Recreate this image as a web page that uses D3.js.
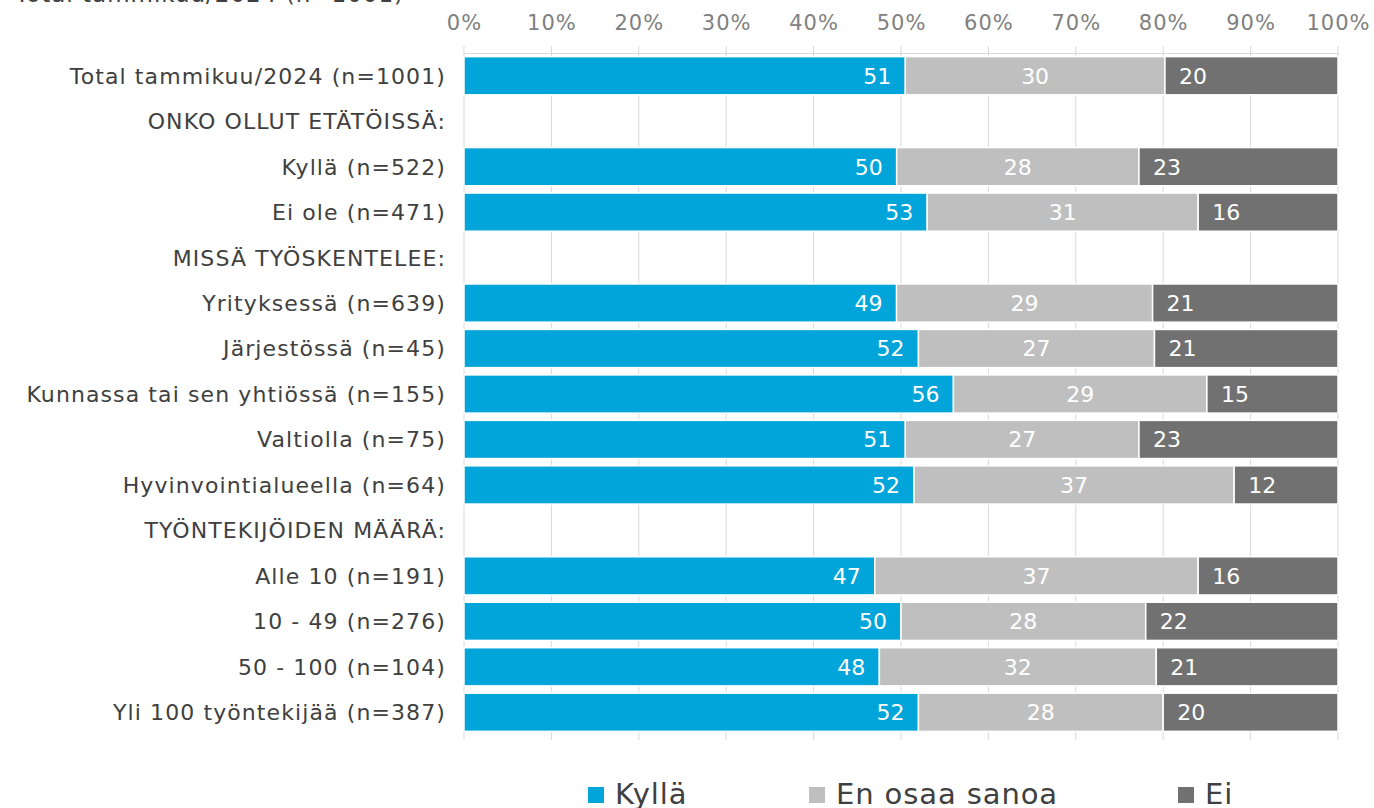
<!DOCTYPE html>
<html>
<head>
<meta charset="utf-8">
<script src="https://cdn.jsdelivr.net/npm/d3@7"></script>
<style>
  body { margin: 0; background: #fff; }
  svg { display: block; font-family: "DejaVu Sans", Verdana, sans-serif; }
</style>
</head>
<body>
<svg id="chart" width="1374" height="808"></svg>
<script>
// rows of the chart, header rows have no values
var categories = [
    "Total tammikuu/2024 (n=1001)",
    "ONKO OLLUT ETÄTÖISSÄ:",
    "Kyllä (n=522)",
    "Ei ole (n=471)",
    "MISSÄ TYÖSKENTELEE:",
    "Yrityksessä (n=639)",
    "Järjestössä (n=45)",
    "Kunnassa tai sen yhtiössä (n=155)",
    "Valtiolla (n=75)",
    "Hyvinvointialueella (n=64)",
    "TYÖNTEKIJÖIDEN MÄÄRÄ:",
    "Alle 10 (n=191)",
    "10 - 49 (n=276)",
    "50 - 100 (n=104)",
    "Yli 100 työntekijää (n=387)"
];
var seriesNames = ["Kyllä", "En osaa sanoa", "Ei"];
var kylla   = [51, null, 50, 53, null, 49, 52, 56, 51, 52, null, 47, 50, 48, 52];
var enOsaa  = [30, null, 28, 31, null, 29, 27, 29, 27, 37, null, 37, 28, 32, 28];
var ei      = [20, null, 23, 16, null, 21, 21, 15, 23, 12, null, 16, 22, 21, 20];
var ticks = [0, 10, 20, 30, 40, 50, 60, 70, 80, 90, 100];
var colors = ["#02A5DA", "#BFBFBF", "#717171"];
var seriesValues = [kylla, enOsaa, ei];

var svg = d3.select("#chart");
var plotLeft = 464, plotRight = 1338, plotTop = 53, plotBottom = 735;

var x = d3.scaleLinear().domain([0, 100]).range([plotLeft, plotRight]);
var y = d3.scaleBand().domain(categories).range([plotTop, plotBottom]).paddingInner(0.16).paddingOuter(0.08);

// cut-off title at the very top
svg.append("text")
    .attr("x", 15)
    .attr("y", 2)
    .style("font-size", "23px")
    .style("fill", "#404040")
    .style("letter-spacing", "1px")
    .text("Total tammikuu/2024 (n=1001)");

// gridlines
svg.append("g").selectAll("line")
    .data(ticks)
    .enter()
    .append("line")
    .attr("x1", function (d) { return x(d); })
    .attr("x2", function (d) { return x(d); })
    .attr("y1", plotTop - 7)
    .attr("y2", plotBottom + 5)
    .attr("stroke", "#D9D9D9")
    .attr("stroke-width", 1);

// top axis
var axis = svg.append("g")
    .attr("transform", "translate(0," + plotTop + ")")
    .call(d3.axisTop(x).tickValues(ticks).tickSize(0).tickPadding(23).tickFormat(function (d) { return d + "%"; }));
axis.select(".domain").attr("stroke", "#D9D9D9");
axis.selectAll("text")
    .style("font-family", "\"DejaVu Sans\", Verdana, sans-serif")
    .style("font-size", "21px")
    .style("fill", "#808080")
    .style("letter-spacing", "1px");

// stacked data, normalized to 100 per row
var rows = [];
categories.forEach(function (c, i) {
    if (kylla[i] == null) return;
    var total = kylla[i] + enOsaa[i] + ei[i];
    var x0 = 0;
    for (var s = 0; s < seriesValues.length; s++) {
        var v = seriesValues[s][i];
        var w = v / total * 100;
        rows.push({cat: c, series: s, value: v, x0: x0, x1: x0 + w});
        x0 += w;
    }
});

svg.append("g").selectAll("rect")
    .data(rows)
    .enter()
    .append("rect")
    .attr("x", function (d) { return x(d.x0); })
    .attr("y", function (d) { return y(d.cat); })
    .attr("width", function (d) { return x(d.x1) - x(d.x0); })
    .attr("height", y.bandwidth())
    .attr("fill", function (d) { return colors[d.series]; })
    .attr("stroke", "#fff")
    .attr("stroke-width", 1.5);

// value labels
svg.append("g").selectAll("text")
    .data(rows)
    .enter()
    .append("text")
    .attr("x", function (d) {
        if (d.series == 0) return x(d.x1) - 14;
        if (d.series == 1) return (x(d.x0) + x(d.x1)) / 2;
        return x(d.x0) + 14;
    })
    .attr("y", function (d) { return y(d.cat) + y.bandwidth() / 2; })
    .attr("dy", "0.36em")
    .attr("text-anchor", function (d) {
        return d.series == 0 ? "end" : (d.series == 1 ? "middle" : "start");
    })
    .style("font-size", "22px")
    .style("fill", "#fff")
    .text(function (d) { return d.value; });

// category labels
svg.append("g").selectAll("text")
    .data(categories)
    .enter()
    .append("text")
    .attr("x", plotLeft - 18)
    .attr("y", function (d) { return y(d) + y.bandwidth() / 2; })
    .attr("dy", "0.36em")
    .attr("text-anchor", "end")
    .style("font-size", "22px")
    .style("fill", "#404040")
    .style("letter-spacing", "1.1px")
    .text(function (d) { return d; });

// legend
var legendX = [588, 809, 1178];
var legend = svg.append("g").selectAll("g")
    .data(seriesNames)
    .enter()
    .append("g")
    .attr("transform", function (d, i) { return "translate(" + legendX[i] + ",795)"; });
legend.append("rect")
    .attr("x", 0)
    .attr("y", -8)
    .attr("width", 16)
    .attr("height", 16)
    .attr("fill", function (d, i) { return colors[i]; });
legend.append("text")
    .attr("x", 27)
    .attr("y", 9)
    .style("font-size", "29px")
    .style("fill", "#404040")
    .style("letter-spacing", "0.9px")
    .text(function (d) { return d; });
</script>
</body>
</html>
